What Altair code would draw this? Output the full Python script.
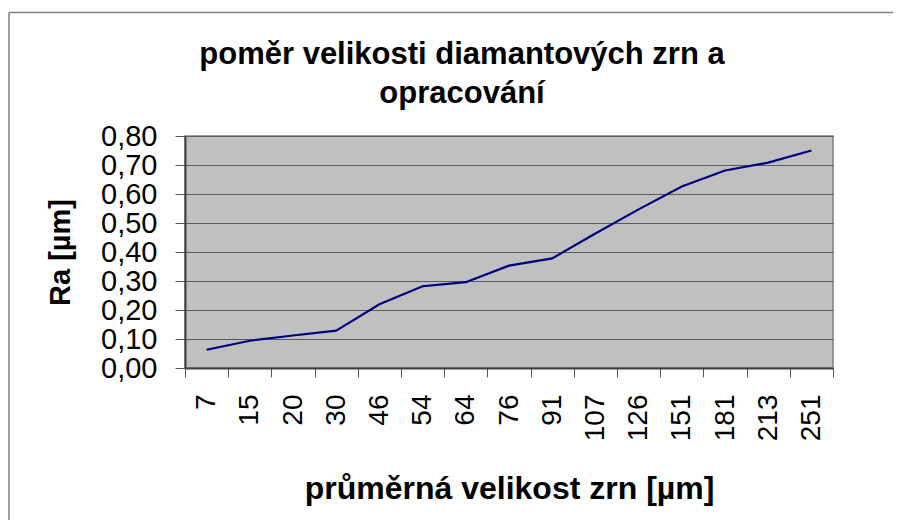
import altair as alt
import pandas as pd

categories = ["7", "15", "20", "30", "46", "54", "64", "76", "91", "107", "126", "151", "181", "213", "251"]
ra_values = [0.063, 0.094, 0.112, 0.129, 0.220, 0.282, 0.296, 0.353, 0.378, 0.464, 0.547, 0.626, 0.681, 0.708, 0.750]
y_ticks = [0.0, 0.1, 0.2, 0.3, 0.4, 0.5, 0.6, 0.7, 0.8]

title_lines = ["poměr velikosti diamantových zrn a", "opracování"]
x_title = "průměrná velikost zrn [µm]"
y_title = "Ra [µm]"

df = pd.DataFrame({"zrno": categories, "ra": ra_values})

W, H = 648, 232
FONT = "Liberation Sans"

x_enc = alt.X(
    "zrno:N",
    sort=None,
    scale=alt.Scale(type="band", paddingInner=0, paddingOuter=0),
    axis=alt.Axis(
        title=x_title,
        titleFont=FONT, titleFontSize=32, titleFontWeight="bold", titleColor="black",
        titleX=W / 2, titleY=120, titleAlign="center", titleBaseline="middle",
        labelFont=FONT, labelFontSize=28, labelColor="black",
        labelAngle=-90, labelAlign="right", labelBaseline="middle", labelPadding=17,
        labelOverlap=False,
        tickBand="extent", tickSize=9, tickColor="#555555", tickWidth=1,
        domainColor="#404040", domainWidth=2, grid=False,
    ),
)

y_enc = alt.Y(
    "ra:Q",
    scale=alt.Scale(domain=[0, 0.8], nice=False),
    axis=alt.Axis(
        title=y_title,
        titleFont=FONT, titleFontSize=29, titleFontWeight="bold", titleColor="black",
        titleX=-125, titleY=H / 2, titleAngle=-90, titleAlign="center", titleBaseline="middle",
        values=y_ticks,
        labelExpr="replace(format(datum.value, '.2f'), '.', ',')",
        labelFont=FONT, labelFontSize=29, labelColor="black", labelPadding=18,
        labelBaseline="middle", labelOverlap=False, labelFlush=False,
        tickSize=10, tickColor="#555555", tickWidth=1,
        domainColor="#404040", domainWidth=2,
        grid=True, gridColor="#5a5a5a", gridWidth=1,
    ),
)

line = alt.Chart(df).mark_line(color="#000080", strokeWidth=2.2).encode(x=x_enc, y=y_enc)

one = pd.DataFrame({"a": [0]})

frame_top = alt.Chart(one).mark_rule(color="#808080", strokeWidth=1.5, clip=False).encode(
    x=alt.value(9 - 185), x2=alt.value(W + 200), y=alt.value(12.5 - 136)
)
frame_left = alt.Chart(one).mark_rule(color="#808080", strokeWidth=1.5, clip=False).encode(
    x=alt.value(9 - 185), y=alt.value(12.5 - 136), y2=alt.value(H + 200)
)

title1 = alt.Chart(one).mark_text(
    font=FONT, fontSize=31, fontWeight="bold", color="black",
    align="center", baseline="alphabetic", clip=False,
).encode(x=alt.value(462 - 185), y=alt.value(-72), text=alt.value(title_lines[0]))

title2 = alt.Chart(one).mark_text(
    font=FONT, fontSize=31, fontWeight="bold", color="black",
    align="center", baseline="alphabetic", clip=False,
).encode(x=alt.value(462 - 185), y=alt.value(-33), text=alt.value(title_lines[1]))

chart = alt.layer(frame_top, frame_left, title1, title2, line).properties(
    width=W,
    height=H,
    autosize=alt.AutoSizeParams(type="none"),
    padding={"left": 177, "top": 128, "right": 60, "bottom": 152},
).configure_view(
    fill="#C0C0C0", stroke="#808080", strokeWidth=1.5
)

chart.save("out.html", embed_options={"renderer": "svg", "actions": False})
